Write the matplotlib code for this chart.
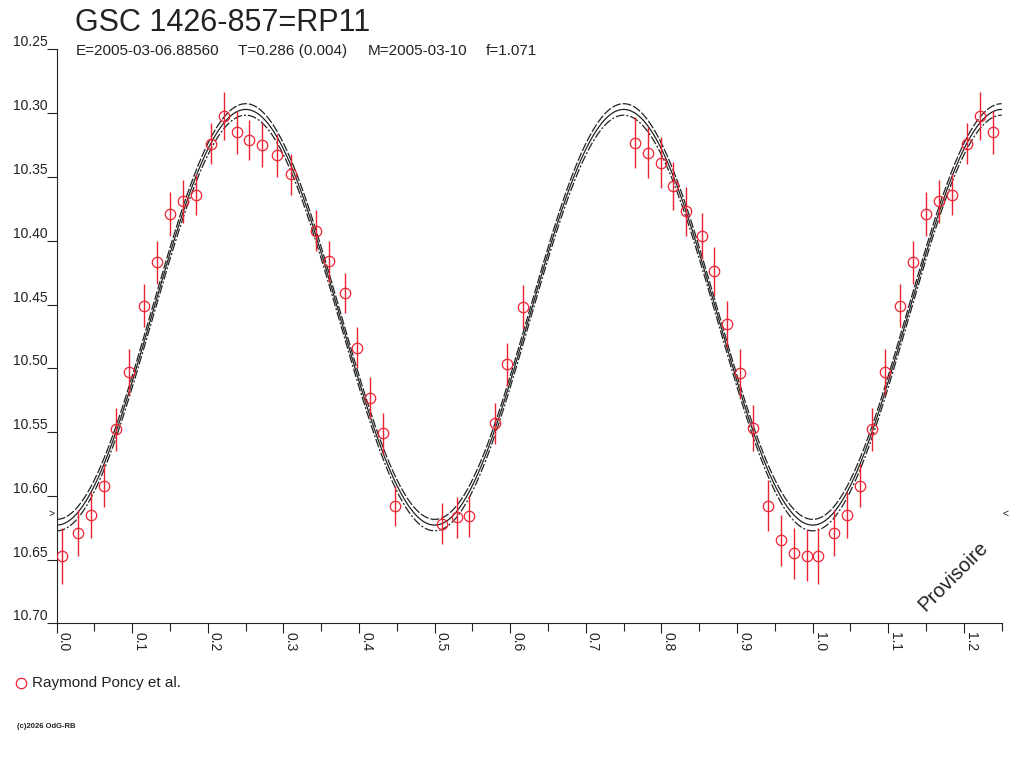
import numpy as np
import matplotlib
matplotlib.use("Agg")
import matplotlib.pyplot as plt
from matplotlib.lines import Line2D

plt.rcParams['font.family'] = ['Liberation Sans', 'DejaVu Sans']

# ---------------- data ----------------
title = "GSC 1426-857=RP11"
subtitle_parts = ["E=2005-03-06.88560", "T=0.286 (0.004)", "M=2005-03-10", "f=1.071"]
observer = "Raymond Poncy et al."
copyright_text = "(c)2026 OdG-RB"
watermark = "Provisoire"

phase = [0.0074, 0.0286, 0.0453, 0.0620, 0.0788, 0.0955, 0.1160, 0.1330, 0.1500,
         0.1670, 0.1840, 0.2040, 0.2210, 0.2380, 0.2550, 0.2720, 0.2920, 0.3100,
         0.3430, 0.3600, 0.3810, 0.3970, 0.4140, 0.4310, 0.4470, 0.5090, 0.5300,
         0.5460, 0.5800, 0.5960, 0.6170, 0.7650, 0.7820, 0.7990, 0.8155, 0.8330,
         0.8530, 0.8700, 0.8870, 0.9040, 0.9210, 0.9410, 0.9580, 0.9750, 0.9920]
mag = [10.647, 10.629, 10.615, 10.592, 10.548, 10.503, 10.451, 10.417, 10.379,
       10.369, 10.364, 10.324, 10.302, 10.315, 10.321, 10.325, 10.333, 10.348,
       10.392, 10.416, 10.441, 10.484, 10.523, 10.551, 10.608, 10.622, 10.617,
       10.616, 10.543, 10.497, 10.452, 10.323, 10.331, 10.339, 10.357, 10.377,
       10.396, 10.424, 10.465, 10.504, 10.547, 10.608, 10.635, 10.645, 10.647]
err = [0.022, 0.018, 0.018, 0.017, 0.017, 0.018, 0.017, 0.017, 0.017,
       0.017, 0.016, 0.016, 0.019, 0.017, 0.016, 0.017, 0.017, 0.016,
       0.016, 0.016, 0.016, 0.016, 0.016, 0.016, 0.016, 0.016, 0.016,
       0.016, 0.016, 0.017, 0.017, 0.020, 0.020, 0.020, 0.019, 0.019,
       0.018, 0.019, 0.018, 0.019, 0.018, 0.020, 0.020, 0.020, 0.020]

# fitted double-wave (period fit) parameters
FIT_MEAN = 10.460
FIT_AMP = 0.163
FIT_BAND = 0.0045
MEAN_MARK = 10.614

x_ticks = [0.0, 0.1, 0.2, 0.3, 0.4, 0.5, 0.6, 0.7, 0.8, 0.9, 1.0, 1.1, 1.2]
x_tick_labels = ["0.0", "0.1", "0.2", "0.3", "0.4", "0.5", "0.6", "0.7", "0.8",
                 "0.9", "1.0", "1.1", "1.2"]
x_minor = [0.05, 0.15, 0.25, 0.35, 0.45, 0.55, 0.65, 0.75, 0.85, 0.95, 1.05, 1.15, 1.25]
y_ticks = [10.25, 10.30, 10.35, 10.40, 10.45, 10.50, 10.55, 10.60, 10.65, 10.70]
y_tick_labels = ["10.25", "10.30", "10.35", "10.40", "10.45", "10.50", "10.55",
                 "10.60", "10.65", "10.70"]
XMAX = 1.25

# ---------------- figure ----------------
RED = '#ee2233'
DARK = '#222222'
fig = plt.figure(figsize=(10.24, 7.68), dpi=100)
ax = fig.add_axes([0.05537, 0.18841, 0.92285, 0.74714])

ph = np.asarray(phase)
mg = np.asarray(mag)
er = np.asarray(err)
# folded light curve: original phases plus repeat (+1) up to XMAX
rep = ph + 1.0 <= XMAX
px = np.concatenate([ph, ph[rep] + 1.0])
py = np.concatenate([mg, mg[rep]])
pe = np.concatenate([er, er[rep]])

# fit curves
grid = np.linspace(0, XMAX, 800)
fit = FIT_MEAN + FIT_AMP * np.cos(4 * np.pi * grid)
ax.plot(grid, fit, color=DARK, lw=0.9, zorder=2)
ax.plot(grid, fit - FIT_BAND, color=DARK, lw=0.9, ls=(0, (7, 1.6)), zorder=2)
ax.plot(grid, fit + FIT_BAND, color=DARK, lw=0.9, ls=(0, (7, 1.6, 1.6, 1.6)), zorder=2)

ax.errorbar(px, py, yerr=pe, fmt='o', ms=7.5, mfc='none', mec=RED, mew=0.9,
            ecolor=RED, elinewidth=1.0, capsize=0, zorder=3)

ax.set_xlim(0, XMAX)
ax.set_ylim(10.70, 10.25)
for s in ['top', 'right']:
    ax.spines[s].set_visible(False)
for s in ['left', 'bottom']:
    ax.spines[s].set_color(DARK)
    ax.spines[s].set_linewidth(0.8)

ax.set_xticks(x_ticks)
ax.set_xticklabels(x_tick_labels)
ax.set_xticks(x_minor, minor=True)
ax.set_yticks(y_ticks)
ax.set_yticklabels(y_tick_labels)
ax.tick_params(axis='x', which='major', direction='out', length=7.5, width=0.8,
               color=DARK, labelsize=10, labelcolor=DARK, pad=-1.5)
ax.tick_params(axis='x', which='minor', direction='out', length=6, width=0.8, color=DARK)
ax.tick_params(axis='y', which='major', direction='out', length=7.2, width=0.8,
               color=DARK, labelsize=10, labelcolor=DARK, pad=-1)
for lbl in ax.get_xticklabels():
    lbl.set_rotation(-90)
    lbl.set_rotation_mode('anchor')
    lbl.set_ha('left')
    lbl.set_va('bottom')
for lbl in ax.get_yticklabels():
    lbl.set_va('bottom')

# mean-level markers
ax.text(-0.0053, MEAN_MARK, ">", transform=ax.get_yaxis_transform(),
        ha='center', va='center', fontsize=7.5, color=DARK, clip_on=False)
ax.text(1.0046, MEAN_MARK, "<", transform=ax.get_yaxis_transform(),
        ha='center', va='center', fontsize=7.5, color=DARK, clip_on=False)

# titles
fig.text(75 / 1024, 1 - 31 / 768, title, fontsize=22, color=DARK, va='baseline')
sub_x = [75.7, 238, 368, 486]
for t, xp in zip(subtitle_parts, sub_x):
    fig.text(xp / 1024, 1 - 55 / 768, t, fontsize=11, color=DARK, va='baseline')

# watermark
fig.text(953 / 1024, 1 - 576 / 768, watermark, fontsize=14.5, color=DARK,
         rotation=45, ha='center', va='center')

# legend
fig.add_artist(Line2D([21 / 1024], [1 - 683 / 768], marker='o', ms=7.5, mfc='none',
                      mec=RED, mew=0.9, ls='none', transform=fig.transFigure))
fig.text(32 / 1024, 1 - 683 / 768, observer, fontsize=11, color=DARK, va='center')

# copyright
fig.text(17 / 1024, 1 - 726 / 768, copyright_text, fontsize=5.5, color=DARK,
         va='center', fontweight='bold')

fig.savefig("out.png", dpi=100, facecolor='white')
